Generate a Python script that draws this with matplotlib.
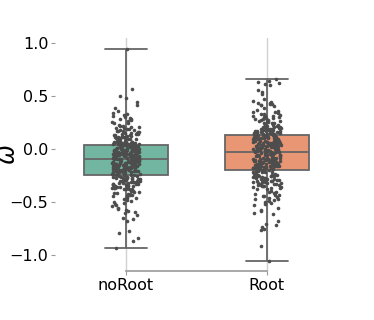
import numpy as np
import pandas as pd
import matplotlib
matplotlib.use("Agg")
import matplotlib.pyplot as plt
import seaborn as sns

# omega values (10 per row)
noroot_vals = [
    0.94, 0.56, 0.50, 0.48, 0.44, 0.41, 0.39, 0.36, 0.34, 0.32,
    0.31, 0.30, 0.29, 0.28, 0.27, 0.26, 0.25, 0.24, 0.23, 0.22,
    0.22, 0.21, 0.20, 0.20, 0.19, 0.18, 0.18, 0.17, 0.17, 0.16,
    0.16, 0.15, 0.15, 0.14, 0.14, 0.13, 0.13, 0.12, 0.12, 0.11,
    0.11, 0.11, 0.10, 0.10, 0.10, 0.09, 0.09, 0.09, 0.08, 0.08,
    0.08, 0.07, 0.07, 0.07, 0.07, 0.06, 0.06, 0.06, 0.06, 0.06,
    0.05, 0.05, 0.05, 0.05, 0.05, 0.05, 0.045, 0.045, 0.045, 0.045,
    0.12, 0.09, 0.07, 0.15, 0.19, 0.24, 0.06, 0.08, 0.10, 0.13,
    0.11, 0.05, 0.17, 0.21, 0.28, 0.33, 0.07, 0.09, 0.14, 0.06,
    0.04, 0.04, 0.03, 0.03, 0.03, 0.02, 0.02, 0.02, 0.01, 0.01,
    0.01, 0.00, 0.00, 0.00, -0.01, -0.01, -0.01, -0.02, -0.02, -0.02,
    -0.03, -0.03, -0.03, -0.03, -0.04, -0.04, -0.04, -0.05, -0.05, -0.05,
    -0.05, -0.06, -0.06, -0.06, -0.06, -0.07, -0.07, -0.07, -0.07, -0.08,
    -0.08, -0.08, -0.08, -0.08, -0.09, -0.09, -0.09, -0.09, -0.09, -0.09,
    -0.02, -0.04, 0.01, -0.06, -0.03, 0.02, -0.07, -0.05, -0.01, -0.08,
    0.03, -0.04, -0.06, 0.00, -0.02, -0.07, -0.09, -0.03, -0.05, -0.095,
    -0.01, -0.03, -0.05, -0.07, -0.09, 0.01, 0.03, -0.02, -0.04, -0.06,
    -0.08, 0.00, 0.02, -0.01, -0.05, -0.07, -0.03, 0.04, -0.09, -0.06,
    -0.10, -0.10, -0.11, -0.11, -0.11, -0.12, -0.12, -0.12, -0.13, -0.13,
    -0.13, -0.14, -0.14, -0.14, -0.15, -0.15, -0.15, -0.16, -0.16, -0.16,
    -0.17, -0.17, -0.17, -0.18, -0.18, -0.18, -0.19, -0.19, -0.19, -0.20,
    -0.20, -0.20, -0.21, -0.21, -0.21, -0.22, -0.22, -0.22, -0.23, -0.23,
    -0.23, -0.24, -0.24, -0.24, -0.11, -0.13, -0.15, -0.17, -0.19, -0.21,
    -0.12, -0.14, -0.16, -0.18, -0.20, -0.22, -0.10, -0.12, -0.14, -0.16,
    -0.18, -0.20, -0.22, -0.24, -0.13, -0.15, -0.17, -0.19, -0.21, -0.23,
    -0.11, -0.13, -0.15, -0.17, -0.19, -0.21, -0.23, -0.12, -0.14, -0.16,
    -0.18, -0.20, -0.22, -0.24, -0.10, -0.15, -0.18, -0.12, -0.21, -0.17,
    -0.25, -0.25, -0.26, -0.26, -0.27, -0.27, -0.28, -0.28, -0.29, -0.29,
    -0.30, -0.30, -0.31, -0.31, -0.32, -0.32, -0.33, -0.33, -0.34, -0.34,
    -0.35, -0.35, -0.36, -0.36, -0.37, -0.37, -0.38, -0.38, -0.39, -0.40,
    -0.40, -0.41, -0.42, -0.42, -0.43, -0.44, -0.45, -0.46, -0.47, -0.48,
    -0.49, -0.50, -0.51, -0.52, -0.53, -0.54, -0.55, -0.56, -0.57, -0.58,
    -0.59, -0.60, -0.62, -0.65, -0.66, -0.68, -0.77, -0.79, -0.84, -0.86,
    -0.93, -0.27, -0.30, -0.33, -0.36, -0.39, -0.44, -0.31, -0.35, -0.38,
    -0.26, -0.28, -0.30, -0.32, -0.34, -0.36, -0.38, -0.29, -0.31, -0.27,
    -0.33, -0.35, -0.41, -0.43, -0.46, -0.26, -0.29, -0.37, -0.32, -0.28,
]

root_vals = [
    0.66, 0.64, 0.63, 0.62, 0.61, 0.60, 0.55, 0.54, 0.52, 0.47,
    0.45, 0.44, 0.43, 0.43, 0.42, 0.42, 0.41, 0.41, 0.40, 0.39,
    0.37, 0.36, 0.35, 0.34, 0.33, 0.33, 0.32, 0.31, 0.31, 0.30,
    0.30, 0.29, 0.29, 0.28, 0.28, 0.27, 0.27, 0.26, 0.26, 0.25,
    0.25, 0.24, 0.24, 0.23, 0.23, 0.22, 0.22, 0.21, 0.21, 0.20,
    0.20, 0.19, 0.19, 0.18, 0.18, 0.18, 0.17, 0.17, 0.17, 0.16,
    0.16, 0.16, 0.15, 0.15, 0.15, 0.14, 0.14, 0.14, 0.14, 0.135,
    0.14, 0.15, 0.16, 0.17, 0.18, 0.19, 0.20, 0.22, 0.24, 0.26,
    0.15, 0.17, 0.19, 0.21, 0.23, 0.27, 0.31, 0.35, 0.16, 0.18,
    0.13, 0.13, 0.12, 0.12, 0.12, 0.11, 0.11, 0.11, 0.10, 0.10,
    0.10, 0.09, 0.09, 0.09, 0.08, 0.08, 0.08, 0.07, 0.07, 0.07,
    0.06, 0.06, 0.06, 0.05, 0.05, 0.05, 0.04, 0.04, 0.04, 0.03,
    0.03, 0.03, 0.02, 0.02, 0.02, 0.01, 0.01, 0.01, 0.00, 0.00,
    0.00, -0.01, -0.01, -0.01, -0.02, -0.02, -0.02, -0.03, -0.03, -0.03,
    0.12, 0.10, 0.08, 0.06, 0.04, 0.02, 0.00, -0.02, 0.11, 0.09,
    0.07, 0.05, 0.03, 0.01, -0.01, 0.13, 0.05, 0.08, -0.02, 0.03,
    0.12, 0.10, 0.08, 0.06, 0.04, 0.02, 0.00, -0.02, 0.11, 0.09,
    0.07, 0.05, 0.03, 0.01, -0.01, 0.13, -0.03, 0.06, 0.10, 0.04,
    -0.035, -0.04, -0.04, -0.05, -0.05, -0.05, -0.06, -0.06, -0.06, -0.07,
    -0.07, -0.07, -0.08, -0.08, -0.08, -0.09, -0.09, -0.09, -0.10, -0.10,
    -0.10, -0.11, -0.11, -0.11, -0.12, -0.12, -0.12, -0.13, -0.13, -0.13,
    -0.14, -0.14, -0.14, -0.15, -0.15, -0.15, -0.16, -0.16, -0.16, -0.17,
    -0.17, -0.17, -0.18, -0.18, -0.18, -0.19, -0.19, -0.19, -0.04, -0.06,
    -0.08, -0.10, -0.12, -0.14, -0.16, -0.18, -0.05, -0.07, -0.09, -0.11,
    -0.13, -0.15, -0.17, -0.19, -0.06, -0.10, -0.14, -0.08, -0.12, -0.16,
    -0.04, -0.06, -0.08, -0.10, -0.12, -0.14, -0.16, -0.18, -0.05, -0.07,
    -0.09, -0.11, -0.13, -0.15, -0.17, -0.19, -0.08, -0.12, -0.15, -0.06,
    -0.20, -0.20, -0.21, -0.21, -0.22, -0.22, -0.23, -0.23, -0.24, -0.24,
    -0.25, -0.25, -0.26, -0.26, -0.27, -0.27, -0.28, -0.28, -0.29, -0.29,
    -0.30, -0.30, -0.31, -0.31, -0.32, -0.32, -0.33, -0.33, -0.34, -0.34,
    -0.35, -0.35, -0.36, -0.36, -0.37, -0.38, -0.38, -0.39, -0.40, -0.41,
    -0.42, -0.43, -0.44, -0.45, -0.46, -0.47, -0.48, -0.49, -0.50, -0.51,
    -0.52, -0.53, -0.55, -0.57, -0.58, -0.60, -0.61, -0.68, -0.70, -0.71,
    -0.73, -0.75, -0.76, -0.91, -1.05, -0.22, -0.26, -0.30, -0.34, -0.44,
    -0.21, -0.23, -0.25, -0.27, -0.29, -0.31, -0.33, -0.22, -0.24, -0.26,
    -0.28, -0.30, -0.35, -0.37, -0.40, -0.43, -0.47, -0.21, -0.25, -0.32,
]

groups = ["noRoot", "Root"]

df = pd.DataFrame({
    "group": ["noRoot"] * len(noroot_vals) + ["Root"] * len(root_vals),
    "omega": noroot_vals + root_vals,
})

sns.set_style("whitegrid")
plt.rcParams['font.family'] = ['DejaVu Sans']
plt.rcParams['text.color'] = 'black'
plt.rcParams['axes.labelcolor'] = 'black'
plt.rcParams['xtick.color'] = 'black'
plt.rcParams['ytick.color'] = 'black'

fig = plt.figure(figsize=(3.74, 3.2), dpi=100)
ax = fig.add_axes([0.148, 0.152, 0.754, 0.728])

sns.boxplot(data=df, x="group", y="omega", order=groups, hue="group",
            palette="Set2", width=0.6, whis=np.inf, showfliers=False,
            linecolor="0.4", linewidth=1.3, legend=False, ax=ax)
np.random.seed(3)
sns.stripplot(data=df, x="group", y="omega", order=groups, color=".3",
              size=2.6, jitter=0.1, ax=ax)

ax.yaxis.grid(False)
ax.xaxis.grid(True, color="0.82", linewidth=1)
ax.set_yticks([-1.0, -0.5, 0.0, 0.5, 1.0])
ax.set_xlabel("")
ax.set_ylabel(r"$\omega$", fontsize=17)
ax.yaxis.set_label_coords(-0.125, 0.5)
ax.tick_params(axis="both", labelsize=11.5, length=3, width=0.8,
               color="0.6", labelcolor="black", pad=2,
               left=True, bottom=True)
sns.despine(ax=ax, left=True, trim=True)
ax.spines["bottom"].set_color("0.6")
ax.spines["bottom"].set_linewidth(1.2)

fig.savefig("out.png", dpi=100)
